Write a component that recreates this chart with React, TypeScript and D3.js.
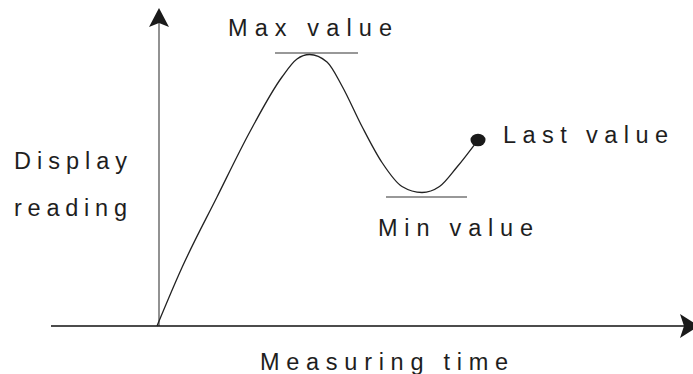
import * as d3 from "d3";

// curve: measuring time vs display reading (arbitrary units)
const timeValues = [0, 5, 12, 18.5, 25, 28, 30.5, 34, 37, 41, 45, 49, 53, 56.5, 60, 64.2];
const readingValues = [0, 19.5, 43, 64.5, 83, 89, 90.5, 88, 80, 66.5, 54.5, 46.5, 44.5, 46.5, 53, 62];

// marker lines for the extremes
const maxMarkTime = [23.6, 40.2];
const maxMarkReading = 91;
const minMarkTime = [45.8, 62];
const minMarkReading = 43;

// last value dot
const lastTime = 64.2;
const lastReading = 62;

const labels = ["Max value", "Min value", "Last value", "Display", "reading", "Measuring time"];

const W = 693;
const H = 374;

const App = () => {
  const x = d3.scaleLinear().domain([0, 100]).range([157, 657]);
  const y = d3.scaleLinear().domain([0, 100]).range([326, 26]);

  const pts: [number, number][] = timeValues.map((t, i) => [t, readingValues[i]]);
  const line = d3
    .line<[number, number]>()
    .x((d) => x(d[0]))
    .y((d) => y(d[1]))
    .curve(d3.curveMonotoneX);

  // axis extents
  const xAxisStart = x(-21.2);
  const xAxisEnd = x(108.4);
  const yAxisTop = y(106);
  const x0 = x(0.2);
  const y0 = y(0);

  const font = "'Liberation Sans', Arial, sans-serif";
  const txt = "#1e1e1e";
  const fs = 23.5;

  return (
    <svg
      width={W}
      height={H}
      style={{ position: "absolute", left: 0, top: 0, background: "#fff" }}
    >
      {/* vertical axis */}
      <line x1={x0 + 1} x2={x0 + 1} y1={y0} y2={yAxisTop + 14} stroke="#777" strokeWidth={1.6} />
      <path
        d={`M${x0 + 1},${yAxisTop} L${x0 + 11},${yAxisTop + 19} L${x0 + 1},${yAxisTop + 15} L${x0 - 9},${yAxisTop + 19} Z`}
        fill="#1a1a1a"
      />
      {/* horizontal axis */}
      <line x1={xAxisStart} x2={xAxisEnd - 15} y1={y0} y2={y0} stroke="#111" strokeWidth={1.4} />
      <path
        d={`M${xAxisEnd},${y0} L${xAxisEnd - 19},${y0 + 12} L${xAxisEnd - 15},${y0} L${xAxisEnd - 19},${y0 - 12} Z`}
        fill="#1a1a1a"
      />

      {/* curve */}
      <path d={line(pts) ?? ""} fill="none" stroke="#222" strokeWidth={1.3} />

      {/* extreme markers */}
      <line
        x1={x(maxMarkTime[0])}
        x2={x(maxMarkTime[1])}
        y1={y(maxMarkReading)}
        y2={y(maxMarkReading)}
        stroke="#333"
        strokeWidth={1.2}
      />
      <line
        x1={x(minMarkTime[0])}
        x2={x(minMarkTime[1])}
        y1={y(minMarkReading)}
        y2={y(minMarkReading)}
        stroke="#333"
        strokeWidth={1.2}
      />

      {/* last value */}
      <ellipse cx={x(lastTime)} cy={y(lastReading)} rx={7.5} ry={6.3} fill="#1a1a1a" />

      <g fontFamily={font} fontSize={fs} fill={txt}>
        <text x={228} y={36} textLength={164} lengthAdjust="spacing">{labels[0]}</text>
        <text x={378} y={236} textLength={155} lengthAdjust="spacing">{labels[1]}</text>
        <text x={503} y={143} textLength={165} lengthAdjust="spacing">{labels[2]}</text>
        <text x={14} y={169} textLength={113} lengthAdjust="spacing">{labels[3]}</text>
        <text x={14} y={216} textLength={113} lengthAdjust="spacing">{labels[4]}</text>
        <text x={260} y={370} textLength={248} lengthAdjust="spacing">{labels[5]}</text>
      </g>
    </svg>
  );
};

export default App;
